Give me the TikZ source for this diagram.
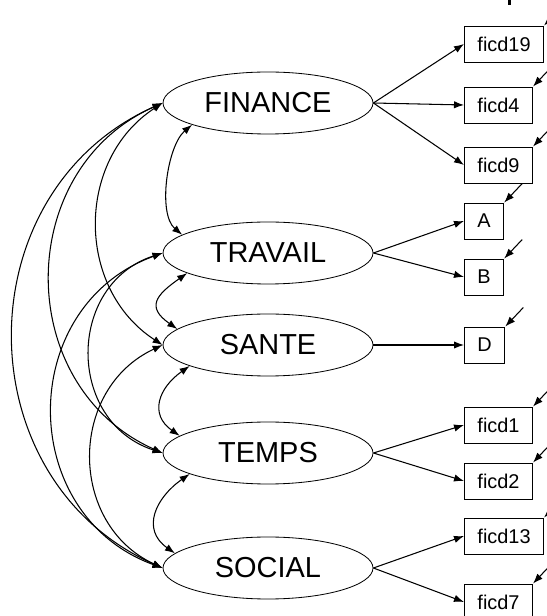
\documentclass[tikz,border=0pt]{standalone}
\usepackage{fontspec}
\setmainfont{Liberation Sans}
\usetikzlibrary{shapes.geometric,arrows.meta}

\begin{document}
\begin{tikzpicture}[x=0.3mm,y=0.3mm,
		latent/.style={draw,ellipse,line width=0.7pt,minimum width=63mm,minimum height=18.6mm,inner sep=0pt,font=\fontsize{24.7}{28}\selectfont},
		item/.style={draw,rectangle,anchor=west,line width=0.8pt,minimum height=10.8mm,inner xsep=3.9mm,inner ysep=0pt,font=\fontsize{17}{20}\selectfont},
		load/.style={line width=0.9pt,-{Latex[length=3mm,width=2.2mm]}},
		cov/.style={line width=0.9pt,{Latex[length=3mm,width=2.2mm]}-{Latex[length=3mm,width=2.2mm]}},
		err/.style={line width=0.9pt,{Latex[length=3mm,width=2.2mm]}-}]
		\clip (0,0) rectangle (547,616);
		\fill[white] (0,0) rectangle (547,616);
		
		% latent variables
		\node[latent] (fin) at (268,513) {FINANCE};
		\node[latent] (trav) at (268,363) {TRAVAIL};
		\node[latent] (sante) at (268,271) {SANTE};
		\node[latent] (temps) at (268,163) {TEMPS};
		\node[latent] (soc) at (268,48) {SOCIAL};
		
		% indicators
		\node[item] (f19) at (464,572) {ficd19};
		\node[item] (f4) at (464,511) {ficd4};
		\node[item] (f9) at (464,451) {ficd9};
		\node[item] (a) at (464,395) {A};
		\node[item] (b) at (464,339) {B};
		\node[item] (d) at (464,271) {D};
		\node[item] (f1) at (464,191) {ficd1};
		\node[item] (f2) at (464,135) {ficd2};
		\node[item] (f13) at (464,80) {ficd13};
		\node[item] (f7) at (464,14) {ficd7};
		
		\draw[load] (fin.east) -- (f19.west);
		\draw[load] (fin.east) -- (f4.west);
		\draw[load] (fin.east) -- (f9.west);
		\draw[load] (trav.east) -- (a.west);
		\draw[load] (trav.east) -- (b.west);
		\draw[load] (sante.east) -- (d.west);
		\draw[load] (temps.east) -- (f1.west);
		\draw[load] (temps.east) -- (f2.west);
		\draw[load] (soc.east) -- (f13.west);
		\draw[load] (soc.east) -- (f7.west);
		
		% error terms
		\foreach \n in {f19,f4,f9,a,b,d,f1,f2,f13,f7}
			\draw[err] (\n.north east) -- ++(18,19);
		
		% neighbours
		\draw[cov] (fin.196) to[out=220,in=140,looseness=0.75] (trav.168);
		\draw[cov] (trav.194) to[out=215,in=145,looseness=1.73] (sante.170);
		\draw[cov] (sante.195) to[out=215,in=145,looseness=1.37] (temps.169);
		\draw[cov] (temps.195) to[out=215,in=145,looseness=1.32] (soc.171);
		
		% long arcs
		\draw[cov] (fin.west) to[out=204,in=156,looseness=1.2] (soc.west);
		\draw[cov] (fin.west) to[out=204,in=156,looseness=1.2] (temps.west);
		\draw[cov] (fin.west) to[out=213,in=147,looseness=1.1] (sante.west);
		\draw[cov] (trav.west) to[out=200,in=160,looseness=1.27] (soc.west);
		\draw[cov] (trav.west) to[out=198,in=162,looseness=1.3] (temps.west);
		\draw[cov] (sante.west) to[out=205,in=155,looseness=1.2] (soc.west);
		
		\draw[line width=0.9mm] (509.5,616) -- (509.5,611);
	\end{tikzpicture}
\end{document}
